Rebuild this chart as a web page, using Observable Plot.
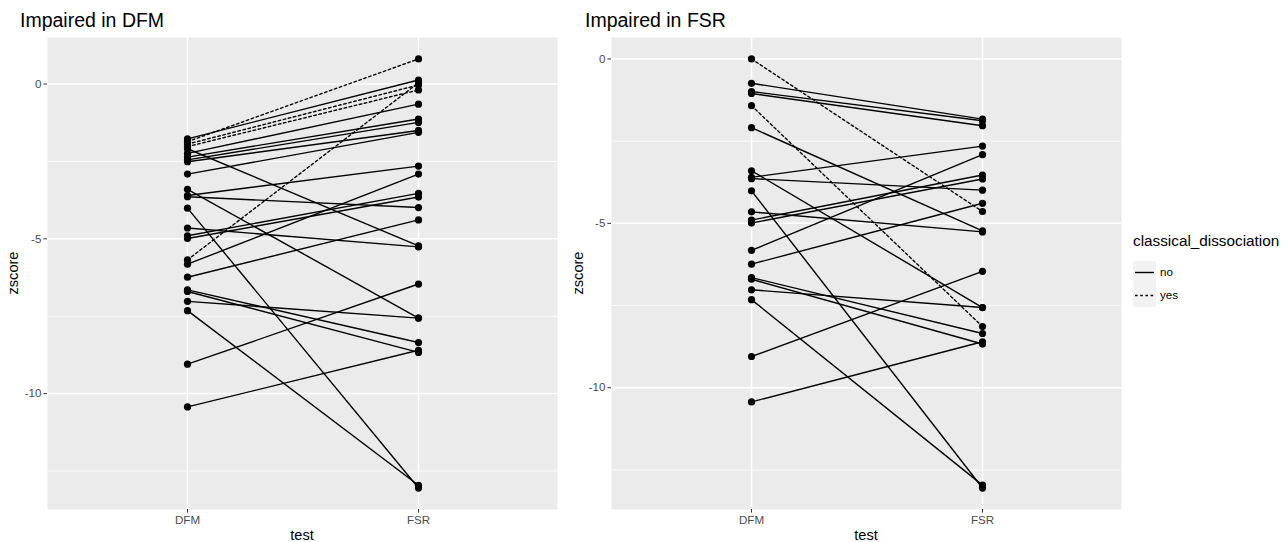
<!DOCTYPE html>
<html><head><meta charset="utf-8">
<script src="https://cdn.jsdelivr.net/npm/d3@7"></script>
<script src="https://cdn.jsdelivr.net/npm/@observablehq/plot@0.6"></script>
<style>
body{margin:0;background:#fff;font-family:"Liberation Sans",Arial,sans-serif;}
#wrap{position:relative;width:1287px;height:542px;overflow:hidden;}
.abs{position:absolute;white-space:nowrap;color:#000;}
.title{font-size:19.5px;line-height:22px;}
.axt{font-size:14.6px;line-height:16px;}
svg{overflow:visible;}
</style></head><body><div id="wrap"></div>
<script>
// ---- data ----
const tests = ["DFM", "FSR"];
const majorTicks = [0, -5, -10];
const minorTicks = [2.5, -2.5, -7.5, -12.5];
const panelTitles = ["Impaired in DFM", "Impaired in FSR"];
const legendLevels = ["no", "yes"];

// Impaired in DFM
const dfmLeft = [-1.77, -1.86, -1.94, -2.02, -2.09, -2.24, -2.36, -2.45, -2.51, -2.91, -3.40, -3.60, -3.64, -4.01, -4.65, -4.90, -4.99, -5.68, -5.82, -6.24, -6.65, -6.70, -7.02, -7.32, -9.05, -10.43];
const fsrLeft = [0.13, 0.81, -0.03, -0.19, -5.23, -0.65, -1.13, -1.24, -1.50, -1.56, -7.56, -2.65, -3.99, -13.05, -5.26, -3.53, -3.65, 0.04, -2.91, -4.39, -8.35, -8.67, -7.56, -12.96, -6.46, -8.60];
const dissocLeft = ["no","yes","yes","yes","no","no","no","no","no","no","no","no","no","no","no","no","no","yes","no","no","no","no","no","no","no","no"];

// Impaired in FSR
const dfmRight = [0, -0.74, -0.99, -1.05, -1.42, -2.09, -3.40, -3.60, -3.64, -4.01, -4.65, -4.90, -4.99, -5.82, -6.24, -6.65, -6.70, -7.02, -7.32, -9.05, -10.43];
const fsrRight = [-4.64, -1.83, -1.88, -2.03, -8.14, -5.23, -7.56, -2.65, -3.99, -13.05, -5.26, -3.53, -3.65, -2.91, -4.39, -8.35, -8.67, -7.56, -12.96, -6.46, -8.60];
const dissocRight = ["yes","no","no","no","yes","no","no","no","no","no","no","no","no","no","no","no","no","no","no","no","no"];

// ---- drawing ----
const wrap = document.getElementById("wrap");
function addDiv(cls, text, style) {
  const d = document.createElement("div");
  d.className = "abs " + cls;
  d.textContent = text;
  Object.assign(d.style, style);
  wrap.appendChild(d);
  return d;
}
const DASH = "2.6,2.6";

function panel(dfm, fsr, dissoc, ml, mr) {
  const rows = [];
  dfm.forEach((v, i) => {
    rows.push({id: i, test: tests[0], z: v, d: dissoc[i]});
    rows.push({id: i, test: tests[1], z: fsr[i], d: dissoc[i]});
  });
  const all = dfm.concat(fsr);
  const lo = d3.min(all), hi = d3.max(all), pad = (hi - lo) * 0.05;
  const dom = [lo - pad, hi + pad];
  const inDom = t => t >= dom[0] && t <= dom[1];
  return Plot.plot({
    width: 565, height: 542,
    marginLeft: ml, marginRight: mr, marginTop: 37, marginBottom: 33,
    style: {fontFamily: '"Liberation Sans", Arial, sans-serif', fontSize: "11.6px", background: "transparent"},
    x: {type: "point", domain: tests, padding: 0.6},
    y: {domain: dom},
    marks: [
      Plot.frame({fill: "#ebebeb", stroke: null}),
      Plot.ruleY(minorTicks.filter(inDom), {stroke: "#ffffff", strokeWidth: 0.75}),
      Plot.ruleY(majorTicks.filter(inDom), {stroke: "#ffffff", strokeWidth: 1.5}),
      Plot.ruleX(tests, {stroke: "#ffffff", strokeWidth: 1.5}),
      Plot.axisX({tickSize: 3.6, tickPadding: 2.5, label: null, fill: "#4d4d4d", stroke: "#333333"}),
      Plot.axisY({ticks: majorTicks, tickSize: 3.6, tickPadding: 2.5, label: null, fill: "#4d4d4d", stroke: "#333333", tickFormat: d => String(d)}),
      Plot.line(rows.filter(r => r.d === "no"), {x: "test", y: "z", z: "id", stroke: "#000", strokeWidth: 1.4}),
      Plot.line(rows.filter(r => r.d === "yes"), {x: "test", y: "z", z: "id", stroke: "#000", strokeWidth: 1.4, strokeDasharray: DASH}),
      Plot.dot(rows, {x: "test", y: "z", r: 3.6, fill: "#000", stroke: null})
    ]
  });
}

const p1 = panel(dfmLeft, fsrLeft, dissocLeft, 47, 8);
p1.style.position = "absolute"; p1.style.left = "0px"; p1.style.top = "0px";
wrap.appendChild(p1);
const p2 = panel(dfmRight, fsrRight, dissocRight, 46, 9);
p2.style.position = "absolute"; p2.style.left = "565px"; p2.style.top = "0px";
wrap.appendChild(p2);

// titles
addDiv("title", panelTitles[0], {left: "20px", top: "9px"});
addDiv("title", panelTitles[1], {left: "585px", top: "9px"});
// axis titles
[302, 866].forEach(cx => {
  addDiv("axt", "test", {left: (cx - 40) + "px", top: "527px", width: "80px", textAlign: "center"});
});
[13, 578].forEach(cx => {
  addDiv("axt", "zscore", {left: (cx - 40) + "px", top: (273 - 8) + "px", width: "80px", textAlign: "center", transform: "rotate(-90deg)"});
});

// legend
addDiv("axt", "classical_dissociation", {left: "1133px", top: "233px", fontSize: "15.3px"});
const ns = "http://www.w3.org/2000/svg";
const lg = document.createElementNS(ns, "svg");
lg.setAttribute("width", "30"); lg.setAttribute("height", "50");
lg.style.position = "absolute"; lg.style.left = "1133px"; lg.style.top = "261px";
legendLevels.forEach((lv, i) => {
  const r = document.createElementNS(ns, "rect");
  r.setAttribute("x", 0); r.setAttribute("y", i * 23); r.setAttribute("width", 23); r.setAttribute("height", 23);
  r.setAttribute("fill", "#f2f2f2");
  lg.appendChild(r);
  const l = document.createElementNS(ns, "line");
  l.setAttribute("x1", 2); l.setAttribute("x2", 21); l.setAttribute("y1", i * 23 + 11.5); l.setAttribute("y2", i * 23 + 11.5);
  l.setAttribute("stroke", "#000"); l.setAttribute("stroke-width", 1.4);
  if (lv === "yes") l.setAttribute("stroke-dasharray", DASH);
  lg.appendChild(l);
  addDiv("", lv, {left: "1160px", top: (261 + i * 23 + 4) + "px", fontSize: "11.6px", lineHeight: "14px"});
});
wrap.appendChild(lg);
</script>
</body></html>
